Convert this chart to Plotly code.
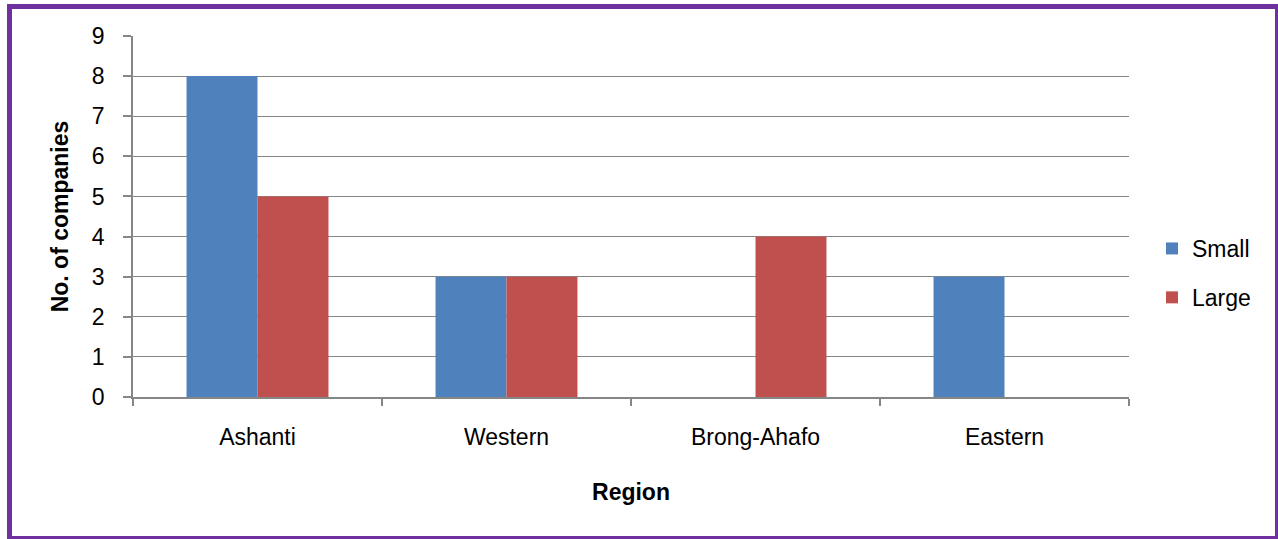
import plotly.graph_objects as go

# Number of companies per region, split by company size
regions = ["Ashanti", "Western", "Brong-Ahafo", "Eastern"]
small = [8, 3, 0, 3]
large = [5, 3, 4, 0]
y_ticks = [0, 1, 2, 3, 4, 5, 6, 7, 8, 9]

W, H = 1278, 539
L, R, T, B = 133, 149, 36, 142
FONT = "Liberation Sans"
FS = 23
GRID = "#868686"

fig = go.Figure()
fig.add_trace(go.Bar(name="Small", x=regions, y=small, legendgroup="s",
                     marker=dict(color="#4F81BD", line=dict(width=0))))
fig.add_trace(go.Bar(name="Large", x=regions, y=large, legendgroup="l",
                     marker=dict(color="#C0504D", line=dict(width=0))))

pw = W - L - R
ph = H - T - B


def px_x(v):
    return (v - L) / pw


def px_y(v):
    return (H - B - v) / ph


# outer frame around the whole chart
fig.add_shape(type="rect", xref="paper", yref="paper",
              x0=px_x(9.5), x1=px_x(1277.5), y0=px_y(538.5), y1=px_y(6.5),
              line=dict(color="#7030A0", width=5), fillcolor="rgba(0,0,0,0)")

fig.update_layout(
    width=W, height=H,
    margin=dict(l=L, r=R, t=T, b=B),
    paper_bgcolor="white", plot_bgcolor="white",
    barmode="group", bargap=0.43, bargroupgap=0,
    font=dict(family=FONT, size=FS, color="#000000"),
    showlegend=True,
    legend=dict(x=px_x(1152), y=px_y(227), xanchor="left", yanchor="top",
                font=dict(size=FS), itemsizing="constant", tracegroupgap=16,
                traceorder="grouped", bgcolor="rgba(0,0,0,0)"),
    xaxis=dict(
        type="category", showgrid=False, showline=True, linecolor=GRID, linewidth=1.5,
        ticks="outside", tickson="boundaries", ticklen=7, tickcolor=GRID, tickwidth=1.5,
        ticklabelstandoff=19,
        title=dict(text="<b>Region</b>", font=dict(size=FS), standoff=35),
    ),
    yaxis=dict(
        range=[0, 9], tickvals=y_ticks, showgrid=True, gridcolor=GRID, gridwidth=1.2,
        showline=True, linecolor=GRID, linewidth=1.5, zeroline=False,
        ticks="outside", ticklen=8, tickcolor=GRID, tickwidth=1.5,
        ticklabelstandoff=14,
        title=dict(text="<b>No. of companies</b>", font=dict(size=FS), standoff=17),
    ),
)

fig.write_html("out.html")
